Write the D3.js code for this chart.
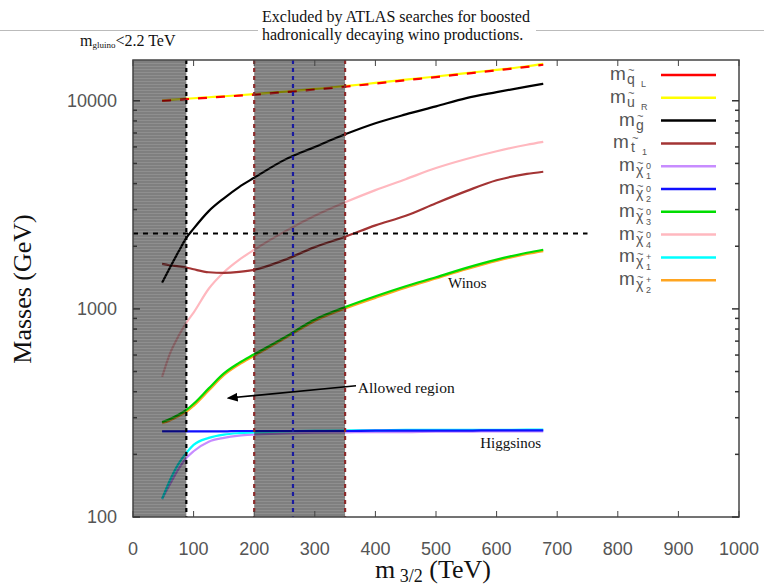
<!DOCTYPE html>
<head>
    <meta charset="utf-8">
    <title>Sparticle masses vs m3/2</title>
</head>
<style>
    body { margin: 0; background: #fff; }
    svg { display: block; }
    .tick { font-family: "Liberation Sans", Arial, sans-serif; font-size: 18px; fill: #555; }
    .serif { font-family: "Liberation Serif", "Times New Roman", serif; fill: #111; }
    .leg { font-family: "Liberation Sans", Arial, sans-serif; fill: #555; }
</style>
<body>
<script src="https://d3js.org/d3.v7.min.js"></script>
<script>
    var width = 764,
        height = 586;

    // m3/2 grid (TeV) shared by every curve
    var m32 = [48, 60, 75, 88, 100, 125, 150, 175, 200, 250, 300, 350, 400, 450, 500, 550, 600, 650, 677];

    // masses in GeV
    var mqL   = [10000, 10050, 10120, 10180, 10230, 10350, 10460, 10580, 10700, 11000, 11330, 11680, 12100, 12550, 13000, 13500, 14000, 14550, 14900];
    var muR   = [10050, 10100, 10170, 10230, 10280, 10400, 10510, 10630, 10760, 11060, 11400, 11750, 12180, 12630, 13080, 13580, 14080, 14650, 15050];
    var mgl   = [1334, 1560, 1880, 2193, 2430, 2950, 3400, 3850, 4266, 5200, 6000, 6900, 7800, 8600, 9400, 10300, 11000, 11700, 12070];
    var mst1  = [1645, 1620, 1600, 1580, 1550, 1500, 1490, 1505, 1540, 1720, 1980, 2220, 2520, 2800, 3220, 3680, 4150, 4450, 4560];
    var mchi1 = [122, 142, 170, 192, 207, 230, 240, 246, 249, 252, 254, 255, 256, 256, 257, 257, 258, 258, 258];
    var mchi2 = [258, 258, 258, 258, 258, 258, 258, 259, 259, 259, 259, 259, 260, 260, 260, 260, 261, 261, 261];
    var mchi3 = [286, 295, 310, 327, 350, 415, 490, 550, 605, 730, 890, 1020, 1150, 1285, 1420, 1575, 1725, 1860, 1923];
    var mchi4 = [471, 600, 740, 857, 960, 1250, 1500, 1720, 1923, 2350, 2800, 3250, 3720, 4200, 4750, 5250, 5720, 6150, 6350];
    var mcha1 = [122, 148, 180, 203, 222, 240, 249, 253, 255, 258, 260, 261, 261, 262, 262, 262, 262, 263, 263];
    var mcha2 = [282, 290, 305, 320, 342, 405, 480, 540, 595, 720, 875, 1005, 1130, 1265, 1400, 1550, 1700, 1835, 1895];

    var xTicks = [0, 100, 200, 300, 400, 500, 600, 700, 800, 900, 1000];
    var yTicks = [100, 1000, 10000];

    // excluded bands (TeV) and reference lines
    var gluinoBand = [0, 88];
    var winoBand = [200, 350];
    var winoLine = 264;
    var gluinoLimit = 2300;   // GeV, horizontal dashed line
    var gluinoLimitEnd = 750;

    var series = [
        { key: "qL",   sym: "q", sub: "L", kind: "sq",  color: "#ff0000", vals: mqL },
        { key: "uR",   sym: "u", sub: "R", kind: "sq",  color: "#ffff00", vals: muR },
        { key: "g",    sym: "g", sub: "",  kind: "g",   color: "#000000", vals: mgl },
        { key: "t1",   sym: "t", sub: "1", kind: "t",   color: "#a33434", vals: mst1 },
        { key: "n1",   sym: "\u03c7", sup: "0", sub: "1", kind: "chi", color: "#c78cff", vals: mchi1 },
        { key: "n2",   sym: "\u03c7", sup: "0", sub: "2", kind: "chi", color: "#1010ff", vals: mchi2 },
        { key: "n3",   sym: "\u03c7", sup: "0", sub: "3", kind: "chi", color: "#00dd00", vals: mchi3 },
        { key: "n4",   sym: "\u03c7", sup: "0", sub: "4", kind: "chi", color: "#ffb8bf", vals: mchi4 },
        { key: "c1",   sym: "\u03c7", sup: "+", sub: "1", kind: "chi", color: "#00ffff", vals: mcha1 },
        { key: "c2",   sym: "\u03c7", sup: "+", sub: "2", kind: "chi", color: "#ffa520", vals: mcha2 }
    ];
    // drawing order so the overlaps look like the picture
    var drawOrder = ["n4", "t1", "g", "uR", "qL", "c2", "n3", "n1", "c1", "n2"];

    var pL = 133, pR = 739, pT = 60, pB = 517;
    var x = d3.scaleLinear().domain([0, 1000]).range([pL, pR]);
    var y = d3.scaleLog().domain([100, 15700]).range([pB, pT]);

    var svg = d3.select("body").append("svg")
        .attr("width", width)
        .attr("height", height);

    var defs = svg.append("defs");
    var pat = defs.append("pattern")
        .attr("id", "stripes")
        .attr("patternUnits", "userSpaceOnUse")
        .attr("width", 8).attr("height", 3);
    pat.append("rect").attr("width", 8).attr("height", 3).attr("fill", "#000").attr("fill-opacity", 0.5);
    pat.append("rect").attr("width", 8).attr("height", 1).attr("fill", "#fff").attr("fill-opacity", 0.12);

    defs.append("marker")
        .attr("id", "arrow")
        .attr("viewBox", "0 0 10 10")
        .attr("refX", 8).attr("refY", 5)
        .attr("markerWidth", 7).attr("markerHeight", 7)
        .attr("orient", "auto")
        .append("path")
        .attr("d", "M0,1 L10,5 L0,9 Z")
        .attr("fill", "#000");

    // header: light rule and captions
    svg.append("line")
        .attr("x1", 0).attr("x2", width).attr("y1", 30.5).attr("y2", 30.5)
        .attr("stroke", "#bbb").attr("stroke-width", 1);
    svg.append("rect")
        .attr("x", 258).attr("y", 4).attr("width", 278).attr("height", 40)
        .attr("fill", "#fff");
    svg.append("text").attr("class", "serif")
        .attr("x", 262).attr("y", 22).attr("font-size", 16)
        .text("Excluded by ATLAS searches for boosted");
    svg.append("text").attr("class", "serif")
        .attr("x", 262).attr("y", 40).attr("font-size", 16)
        .text("hadronically decaying wino productions.");
    var gl = svg.append("text").attr("class", "serif")
        .attr("x", 80).attr("y", 46).attr("font-size", 16);
    gl.append("tspan").text("m");
    gl.append("tspan").attr("font-size", 9).attr("dy", 2).text("gluino");
    gl.append("tspan").attr("dy", -2).text("<2.2 TeV");

    // curves
    var line = d3.line()
        .curve(d3.curveMonotoneX)
        .x(function (d) { return x(d[0]); })
        .y(function (d) { return y(d[1]); });

    var byKey = {};
    series.forEach(function (s) { byKey[s.key] = s; });

    drawOrder.forEach(function (k) {
        var s = byKey[k];
        svg.append("path")
            .datum(m32.map(function (m, i) { return [m, s.vals[i]]; }))
            .attr("fill", "none")
            .attr("stroke", s.color)
            .attr("stroke-width", 2.2)
            .attr("stroke-dasharray", k == "qL" ? "9,9" : null)
            .attr("d", line);
    });

    // shaded exclusions, drawn over the curves
    [gluinoBand, winoBand].forEach(function (b) {
        svg.append("rect")
            .attr("x", x(b[0])).attr("y", pT)
            .attr("width", x(b[1]) - x(b[0])).attr("height", pB - pT)
            .attr("fill", "url(#stripes)");
    });

    function vline(v, color) {
        svg.append("line")
            .attr("x1", x(v)).attr("x2", x(v))
            .attr("y1", pT).attr("y2", pB)
            .attr("stroke", color).attr("stroke-width", 2.2)
            .attr("stroke-dasharray", "4,4");
    }
    vline(gluinoBand[1], "#000");
    vline(winoBand[0], "#8b2a2a");
    vline(winoBand[1], "#8b2a2a");
    vline(winoLine, "#1a1aa0");

    svg.append("line")
        .attr("x1", x(0)).attr("x2", x(gluinoLimitEnd))
        .attr("y1", y(gluinoLimit)).attr("y2", y(gluinoLimit))
        .attr("stroke", "#000").attr("stroke-width", 2)
        .attr("stroke-dasharray", "5,5");

    // frame and ticks
    svg.append("rect")
        .attr("x", pL).attr("y", pT)
        .attr("width", pR - pL).attr("height", pB - pT)
        .attr("fill", "none").attr("stroke", "#444").attr("stroke-width", 1.5);

    xTicks.forEach(function (t) {
        svg.append("line").attr("x1", x(t)).attr("x2", x(t))
            .attr("y1", pB).attr("y2", pB - 6).attr("stroke", "#444");
        svg.append("line").attr("x1", x(t)).attr("x2", x(t))
            .attr("y1", pT).attr("y2", pT + 6).attr("stroke", "#444");
        svg.append("text").attr("class", "tick")
            .attr("x", x(t)).attr("y", 555)
            .attr("text-anchor", "middle")
            .text(t);
    });

    y.ticks().forEach(function (t) {
        var major = yTicks.indexOf(t) >= 0;
        var len = major ? 7 : 4;
        svg.append("line").attr("x1", pL).attr("x2", pL + len)
            .attr("y1", y(t)).attr("y2", y(t)).attr("stroke", "#333").attr("stroke-width", 1.5);
        svg.append("line").attr("x1", pR).attr("x2", pR - len)
            .attr("y1", y(t)).attr("y2", y(t)).attr("stroke", "#333").attr("stroke-width", 1.5);
    });
    yTicks.forEach(function (t) {
        svg.append("text").attr("class", "tick")
            .attr("x", 117).attr("y", y(t) + 6)
            .attr("text-anchor", "end")
            .text(t);
    });

    // axis titles
    svg.append("text").attr("class", "serif")
        .attr("transform", "translate(31," + 289 + ") rotate(-90)")
        .attr("text-anchor", "middle")
        .attr("font-size", 26)
        .attr("fill", "#333")
        .text("Masses (GeV)");
    var xt = svg.append("text").attr("class", "serif")
        .attr("x", 433).attr("y", 578)
        .attr("text-anchor", "middle")
        .attr("font-size", 26)
        .attr("fill", "#333");
    xt.append("tspan").text("m");
    xt.append("tspan").attr("font-size", 18).attr("dy", 4).text(" 3/2");
    xt.append("tspan").attr("dy", -4).text(" (TeV)");

    // annotations
    svg.append("text").attr("class", "serif")
        .attr("x", x(520)).attr("y", y(1262)).attr("font-size", 15)
        .text("Winos");
    svg.append("text").attr("class", "serif")
        .attr("x", x(371)).attr("y", y(394)).attr("font-size", 15.5)
        .text("Allowed region");
    svg.append("line")
        .attr("x1", x(368)).attr("y1", y(427))
        .attr("x2", x(158)).attr("y2", y(373))
        .attr("stroke", "#000").attr("stroke-width", 1.6)
        .attr("marker-end", "url(#arrow)");
    svg.append("text").attr("class", "serif")
        .attr("x", x(573)).attr("y", y(215)).attr("font-size", 15)
        .text("Higgsinos");

    // legend
    var offs = {
        sq:  { m: 610, s: 627, i: 641 },
        g:   { m: 619, s: 636, i: 647 },
        t:   { m: 613, s: 631, i: 642 },
        chi: { m: 619, s: 636, i: 646 }
    };
    series.forEach(function (s, i) {
        var ly = 75 + i * 22.8;
        var o = offs[s.kind];
        svg.append("line")
            .attr("x1", 661).attr("x2", 716)
            .attr("y1", ly).attr("y2", ly)
            .attr("stroke", s.color).attr("stroke-width", 2.5);
        svg.append("text").attr("class", "leg")
            .attr("x", o.m).attr("y", ly + 5).attr("font-size", 19)
            .text("m");
        svg.append("text").attr("class", "leg")
            .attr("x", o.s).attr("y", ly + 9).attr("font-size", 14)
            .text(s.sym);
        svg.append("text").attr("class", "leg")
            .attr("x", o.s + 1).attr("y", ly + (s.kind == "chi" ? 1 : -1)).attr("font-size", 11)
            .text("~");
        if (s.sup) {
            svg.append("text").attr("class", "leg")
                .attr("x", o.i).attr("y", ly + 3).attr("font-size", 9)
                .text(s.sup);
        }
        if (s.sub) {
            svg.append("text").attr("class", "leg")
                .attr("x", o.i).attr("y", ly + (s.kind == "chi" ? 13 : 12)).attr("font-size", 9)
                .text(s.sub);
        }
    });
</script>
</body>
